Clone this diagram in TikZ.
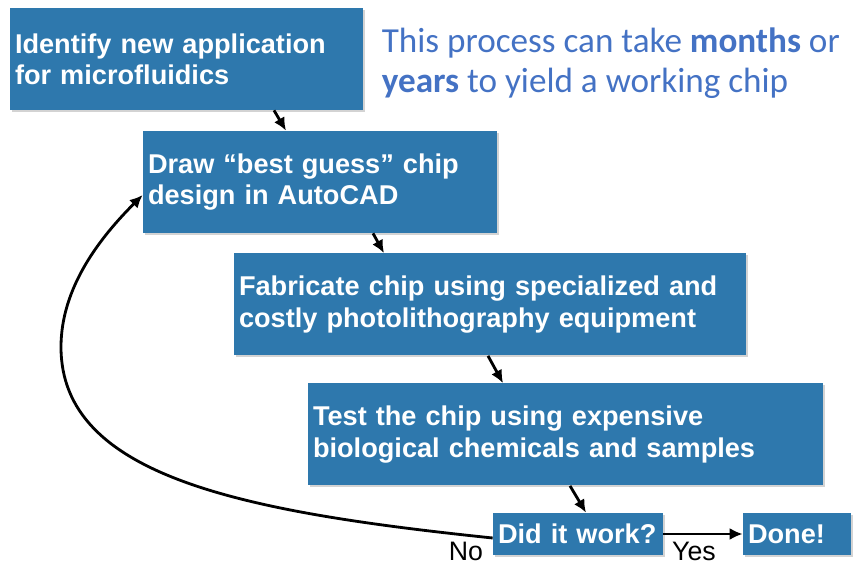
\documentclass[tikz,border=0pt]{standalone}
\usepackage{fontspec}
\setmainfont{Liberation Sans}
\newfontfamily\notefont{Carlito}
\usetikzlibrary{arrows.meta,calc,positioning,shadows}
\definecolor{stepfill}{HTML}{2E78AD}
\definecolor{notecolor}{HTML}{4472C4}
\begin{document}
\begin{tikzpicture}[
  font=\fontsize{15.45}{17.8}\selectfont\bfseries,
  flow/.style={-{Latex[length=2.6mm,width=2.4mm]},draw=black,line width=1.6pt},
  stepbox/.style={fill=stepfill,text=white,align=left,inner xsep=0.1cm,
    inner ysep=0pt,minimum height=2.04cm,
    drop shadow={shadow xshift=.04cm,shadow yshift=-.04cm,opacity=.35}},
  smallbox/.style={stepbox,minimum height=0.84cm},
  answer/.style={font=\fontsize{15.2}{17.8}\selectfont,text=black}
]
\useasboundingbox (0,0) rectangle (17.06,-11.3);
% Design loop, one step per box.
\node[stepbox,text width=6.86cm] (identify) at (3.73,-1.18)
  {Identify new application\\for microfluidics};
\node[stepbox,text width=6.88cm] (design) at (6.40,-3.64)
  {Draw “best guess” chip\\design in AutoCAD};
\node[stepbox,text width=10.04cm] (fabricate) at (9.80,-6.09)
  {Fabricate chip using specialized and\\costly photolithography equipment};
\node[stepbox,text width=10.10cm] (test) at (11.31,-8.69)
  {Test the chip using expensive\\biological chemicals and samples};
\node[smallbox,text width=3.20cm] (works) at (11.56,-10.68) {Did it work?};
\node[smallbox,text width=1.96cm] (done) at (15.94,-10.68) {Done!};
\draw[flow] ([xshift=1.75cm]identify.south) -- ([xshift=-0.68cm]design.north);
\draw[flow] ([xshift=1.06cm]design.south) -- ([xshift=-2.12cm]fabricate.north);
\draw[flow] ([xshift=-0.04cm]fabricate.south) -- ([xshift=-1.25cm]test.north);
\draw[flow] ([xshift=0.09cm]test.south) -- ([xshift=0.16cm]works.north);
\draw[flow] (works.east) -- (done.west);
% Failed test goes back to the design step.
\coordinate (loopleft) at (1.22,-6.94);
\draw[flow] ([yshift=-0.08cm]works.west)
  .. controls +(-4.98,0.52) and +(0,-2.6) .. (loopleft)
  .. controls +(0,1.2) and +(-0.84,-0.84) .. ([yshift=-0.26cm]design.west);
\node[answer] (no) at (9.32,-11.02) {No};
\node[answer] (yes) at (13.88,-11.02) {Yes};
% Side note on the time it takes.
\node[anchor=north west,inner sep=0pt,align=left,text=notecolor,
  font=\notefont\fontsize{20}{23.3}\selectfont] (note) at (7.63,-0.54)
  {This process can take \textbf{months} or\\\textbf{years} to yield a working chip};
\end{tikzpicture}
\end{document}
